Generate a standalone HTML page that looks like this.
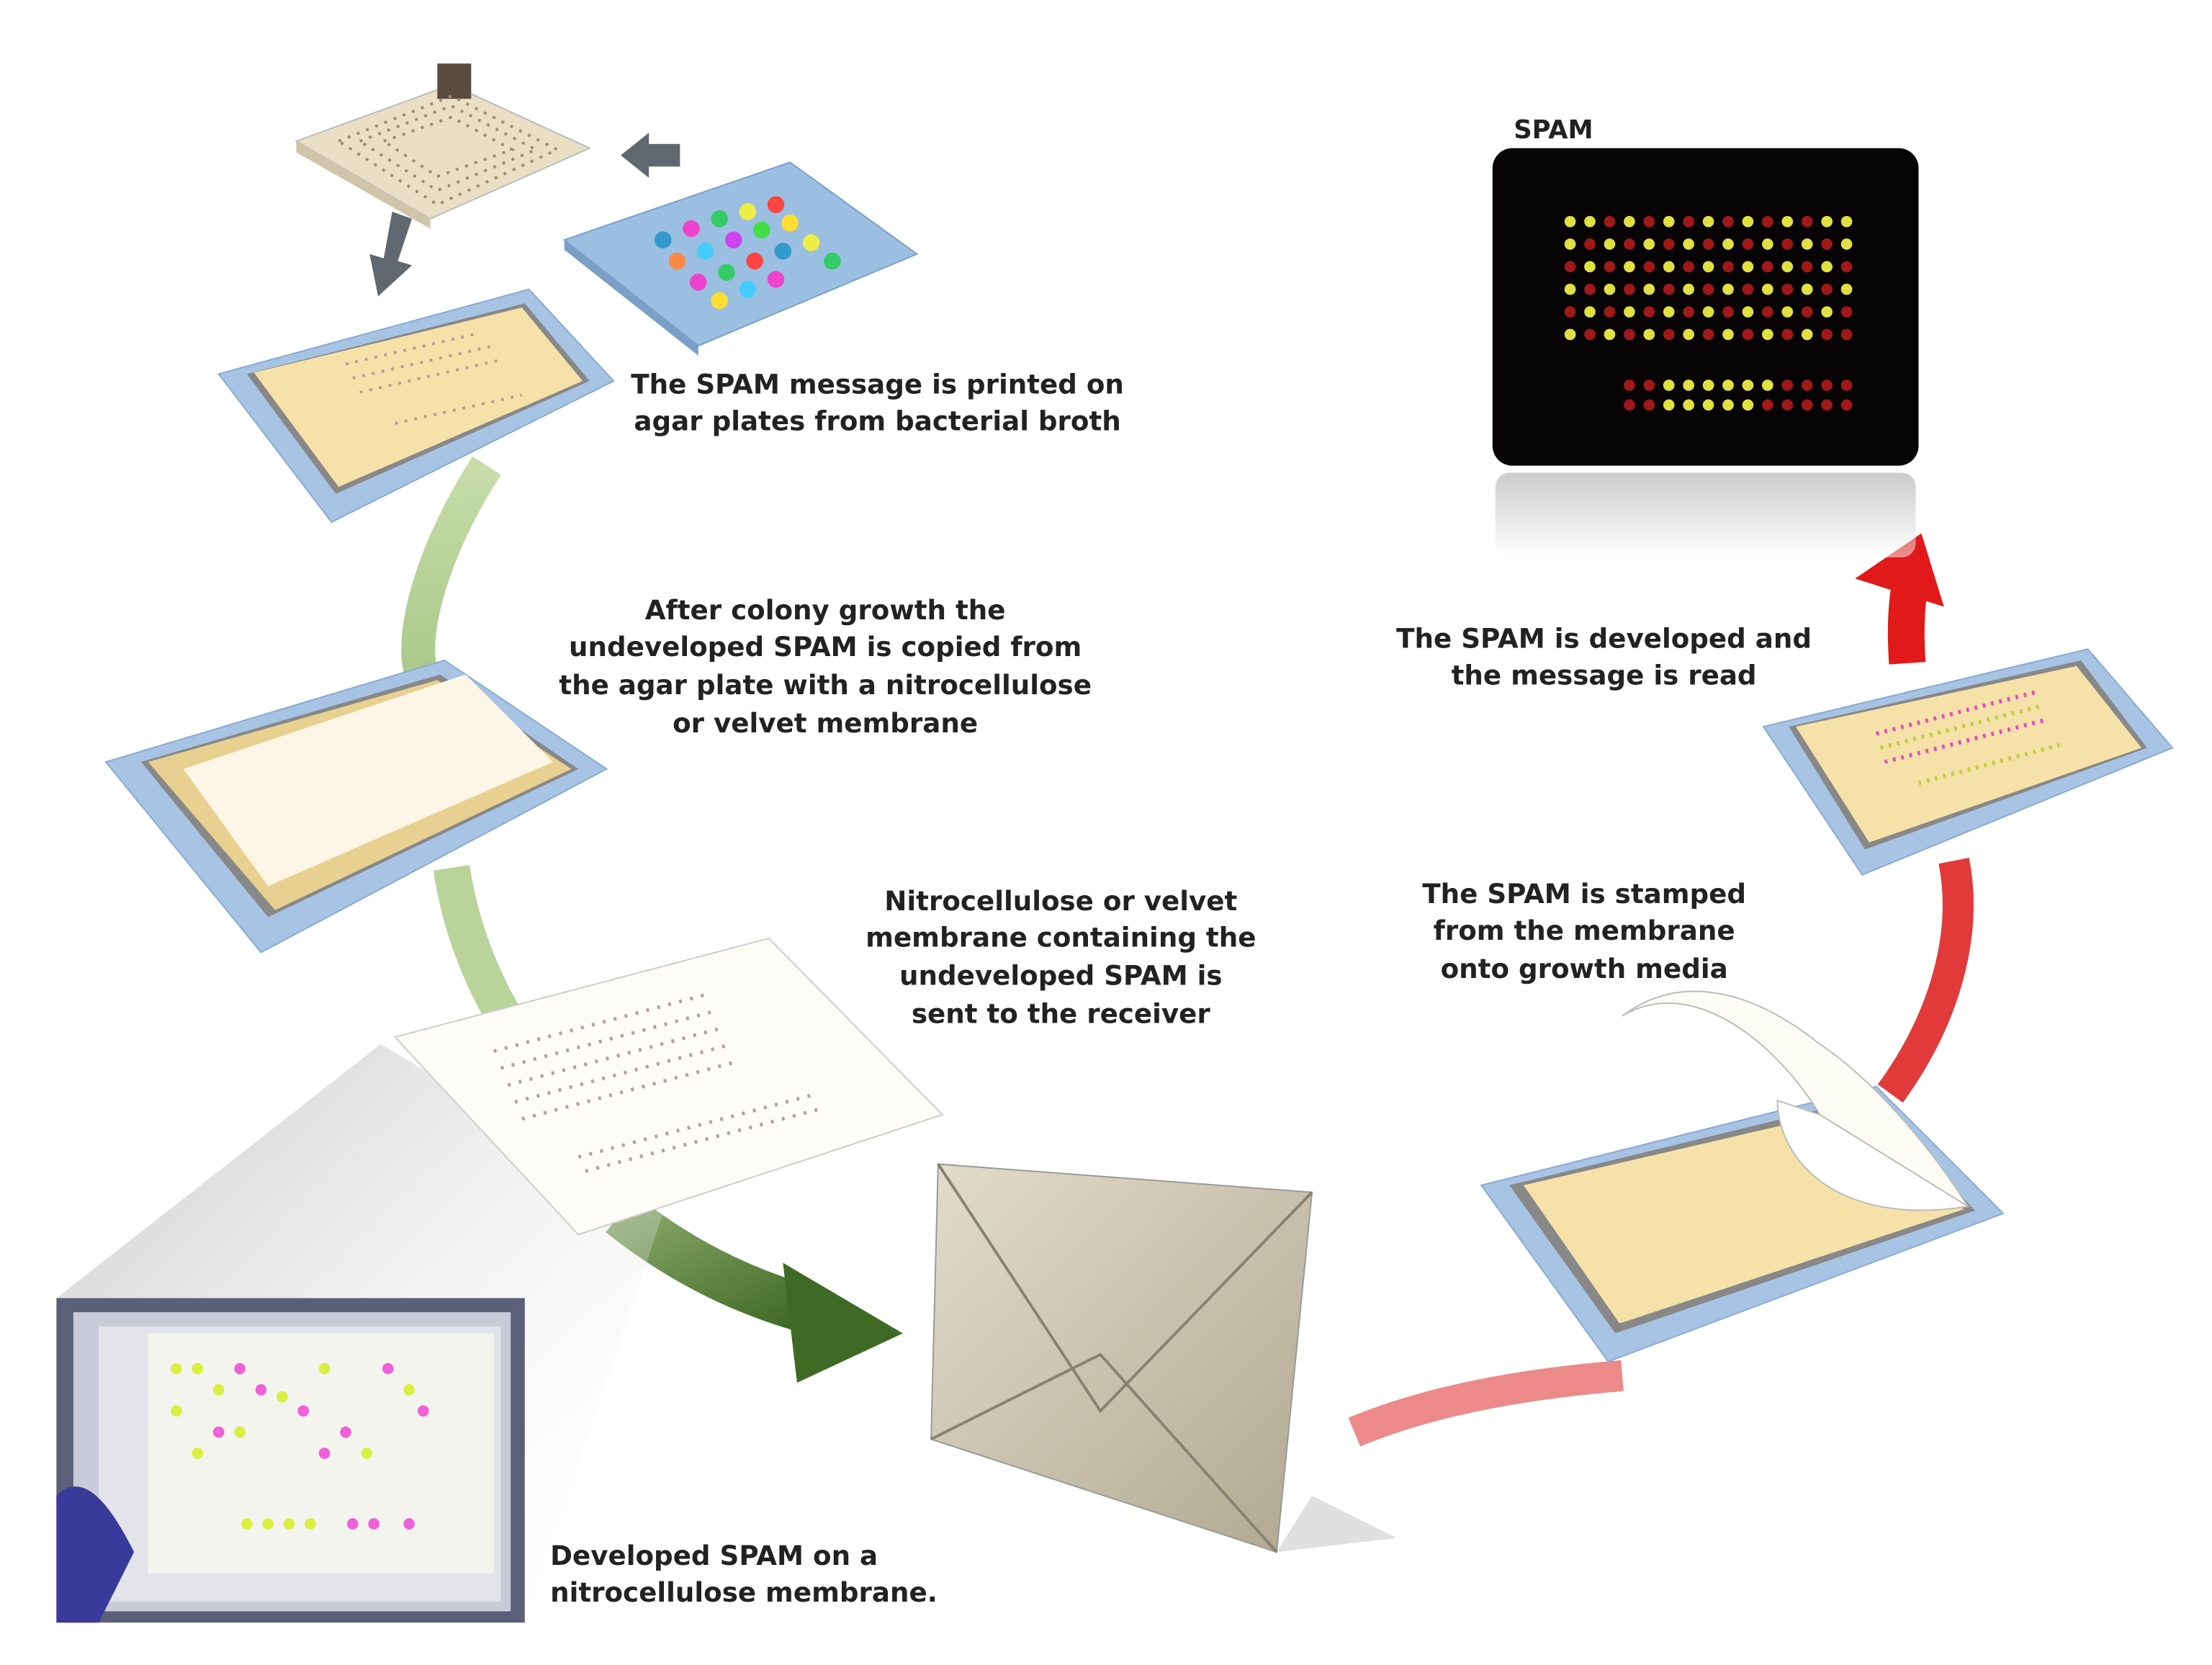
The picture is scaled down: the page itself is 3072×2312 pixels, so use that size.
<!DOCTYPE html>
<html><head><meta charset="utf-8"><style>
html,body{margin:0;padding:0;background:#fff;}
svg{display:block;}
text{font-family:"DejaVu Sans","Liberation Sans",sans-serif;font-weight:bold;font-size:19px;fill:#222;}
</style></head><body>
<svg width="3072" height="2312" viewBox="0 0 1568 1180" xmlns="http://www.w3.org/2000/svg">
<defs>
<linearGradient id="gl" x1="0" y1="0" x2="0" y2="1"><stop offset="0" stop-color="#c8dcaa"/><stop offset="1" stop-color="#a9c98a"/></linearGradient>
<linearGradient id="gd" x1="0" y1="0" x2="1" y2="1"><stop offset="0" stop-color="#8aa86a"/><stop offset="1" stop-color="#3f6a25"/></linearGradient>
<linearGradient id="sh" x1="0" y1="0" x2="1" y2="1"><stop offset="0" stop-color="#bbb"/><stop offset="1" stop-color="#fff" stop-opacity="0"/></linearGradient>
<linearGradient id="ref" x1="0" y1="0" x2="0" y2="1"><stop offset="0" stop-color="#999"/><stop offset="1" stop-color="#fff"/></linearGradient>
<linearGradient id="env" x1="0" y1="0" x2="1" y2="1"><stop offset="0" stop-color="#e2dccb"/><stop offset="1" stop-color="#b0a78f"/></linearGradient>
</defs>

<!-- stamper -->
<polygon points="210,100 320,60 418,105 305,155" fill="#e8dfc4" stroke="#bbb"/>
<polygon points="210,100 305,155 305,162 210,108" fill="#cfc6aa"/>
<rect x="310" y="45" width="24" height="25" fill="#5a4a40"/>
<g>
<polygon points="240,100 320,68 395,106 310,145" fill="none" stroke="#a08a70" stroke-width="2" stroke-dasharray="2 5"/>
<polygon points="255,100 320,75 380,106 310,135" fill="none" stroke="#a08a70" stroke-width="2" stroke-dasharray="2 5"/>
<polygon points="272,100 320,83 363,106 310,125" fill="none" stroke="#a08a70" stroke-width="2" stroke-dasharray="2 5"/>
</g>
<!-- gray arrows -->
<polygon points="482,102 460,102 460,94 440,110 460,126 460,118 482,118" fill="#5f6870"/>
<polygon points="278,150 292,155 282,185 292,188 268,210 262,180 272,183" fill="#5f6870"/>

<!-- blue well plate -->
<polygon points="400,170 560,115 650,180 495,245" fill="#9bbfe0" stroke="#7aa0c8"/>
<polygon points="400,170 495,245 495,252 400,177" fill="#7aa0c8"/>
<g>
<circle cx="470" cy="170" r="6" fill="#39c"/><circle cx="490" cy="162" r="6" fill="#e4c"/><circle cx="510" cy="155" r="6" fill="#3c6"/>
<circle cx="530" cy="150" r="6" fill="#ee4"/><circle cx="550" cy="145" r="6" fill="#f44"/><circle cx="480" cy="185" r="6" fill="#f84"/>
<circle cx="500" cy="178" r="6" fill="#4cf"/><circle cx="520" cy="170" r="6" fill="#c4e"/><circle cx="540" cy="163" r="6" fill="#4d4"/>
<circle cx="560" cy="158" r="6" fill="#fd3"/><circle cx="495" cy="200" r="6" fill="#e4c"/><circle cx="515" cy="193" r="6" fill="#3c6"/>
<circle cx="535" cy="185" r="6" fill="#f44"/><circle cx="555" cy="178" r="6" fill="#39c"/><circle cx="575" cy="172" r="6" fill="#ee4"/>
<circle cx="510" cy="213" r="6" fill="#fd3"/><circle cx="530" cy="205" r="6" fill="#4cf"/><circle cx="550" cy="198" r="6" fill="#e4c"/><circle cx="590" cy="185" r="6" fill="#3c6"/>
</g>

<!-- green connector -->
<path d="M345,330 C300,400 290,460 300,480" stroke="url(#gl)" stroke-width="24" fill="none"/>
<path d="M320,615 C330,680 360,740 420,800" stroke="#b9d39a" stroke-width="26" fill="none"/>
<path d="M440,860 C490,900 540,920 580,930" stroke="url(#gd)" stroke-width="34" fill="none"/>
<polygon points="555,895 640,945 565,980" fill="#3f6a25"/>

<!-- plate 1 -->
<polygon points="155,265 375,205 435,270 235,370" fill="#a8c4e4" stroke="#8aaad0"/>
<polygon points="175,265 372,215 418,270 238,350" fill="#888"/>
<polygon points="180,264 370,218 413,270 240,345" fill="#f6e2a8"/>
<g fill="none" stroke="#b89a9a" stroke-width="2" stroke-dasharray="2 5">
<line x1="245" y1="258" x2="340" y2="236"/><line x1="250" y1="268" x2="350" y2="245"/><line x1="255" y1="278" x2="355" y2="255"/><line x1="280" y1="300" x2="370" y2="280"/>
</g>

<!-- plate 2 -->
<polygon points="75,540 315,468 430,545 185,675" fill="#a8c4e4" stroke="#8aaad0"/>
<polygon points="100,540 312,478 410,545 190,650" fill="#888"/>
<polygon points="105,540 310,482 405,545 195,645" fill="#e8d090"/>
<polygon points="130,545 330,478 392,540 190,628" fill="#fdf6e6"/>

<!-- shadow to photo -->
<polygon points="270,740 470,860 372,1150 40,920" fill="url(#sh)" opacity="0.8"/>

<!-- membrane -->
<polygon points="280,735 545,665 668,790 410,875" fill="#fdfcf6" stroke="#ccc"/>
<g fill="none" stroke="#b89aa8" stroke-width="2.5" stroke-dasharray="2 6">
<line x1="350" y1="745" x2="500" y2="705"/><line x1="355" y1="757" x2="505" y2="717"/><line x1="360" y1="769" x2="510" y2="729"/><line x1="365" y1="781" x2="515" y2="741"/><line x1="370" y1="793" x2="520" y2="753"/><line x1="410" y1="820" x2="580" y2="775"/><line x1="415" y1="830" x2="585" y2="785"/>
</g>

<!-- photo -->
<rect x="40" y="920" width="332" height="230" fill="#5a6078"/>
<rect x="52" y="930" width="310" height="212" fill="#c9ccd8"/>
<rect x="70" y="940" width="285" height="195" fill="#e2e4ea"/>
<rect x="105" y="945" width="245" height="170" fill="#f4f4ee"/>
<g>
<g fill="#d8f040"><circle cx="125" cy="970" r="4"/><circle cx="140" cy="970" r="4"/><circle cx="155" cy="985" r="4"/><circle cx="125" cy="1000" r="4"/><circle cx="170" cy="1015" r="4"/><circle cx="200" cy="990" r="4"/><circle cx="230" cy="970" r="4"/><circle cx="260" cy="1030" r="4"/><circle cx="290" cy="985" r="4"/><circle cx="175" cy="1080" r="4"/><circle cx="190" cy="1080" r="4"/><circle cx="205" cy="1080" r="4"/><circle cx="220" cy="1080" r="4"/><circle cx="140" cy="1030" r="4"/></g>
<g fill="#f060d8"><circle cx="170" cy="970" r="4"/><circle cx="185" cy="985" r="4"/><circle cx="215" cy="1000" r="4"/><circle cx="245" cy="1015" r="4"/><circle cx="275" cy="970" r="4"/><circle cx="300" cy="1000" r="4"/><circle cx="155" cy="1015" r="4"/><circle cx="250" cy="1080" r="4"/><circle cx="265" cy="1080" r="4"/><circle cx="290" cy="1080" r="4"/><circle cx="230" cy="1030" r="4"/></g>
</g>
<path d="M40,1060 C60,1040 80,1070 95,1100 L70,1150 L40,1150Z" fill="#3a3a9a"/>

<!-- envelope -->
<polygon points="665,825 930,845 905,1100 660,1020" fill="url(#env)" stroke="#999"/>
<polyline points="665,825 780,1000 930,845" fill="none" stroke="#8a8270" stroke-width="2"/>
<polyline points="660,1020 780,960 905,1100" fill="none" stroke="#8a8270" stroke-width="2"/>
<polygon points="905,1100 930,1060 990,1090" fill="#ccc" opacity="0.6"/>

<!-- red connectors -->
<path d="M960,1015 C1020,990 1090,980 1150,975" stroke="#ec8a8a" stroke-width="22" fill="none"/>
<path d="M1340,775 C1380,720 1395,660 1385,610" stroke="#e23a3a" stroke-width="22" fill="none"/>
<path d="M1352,470 C1350,440 1352,415 1358,400" stroke="#e01a1a" stroke-width="26" fill="none"/>
<polygon points="1315,410 1362,378 1378,430" fill="#e01a1a"/>

<!-- plate 3 -->
<polygon points="1050,840 1330,770 1420,860 1140,965" fill="#a8c4e4" stroke="#8aaad0"/>
<polygon points="1070,840 1325,778 1400,858 1145,945" fill="#888"/>
<polygon points="1080,840 1322,784 1392,857 1148,938" fill="#f6e2a8"/>
<path d="M1150,720 C1200,690 1260,740 1290,790 C1300,830 1360,860 1395,855 C1360,800 1320,760 1290,740 C1240,700 1190,690 1150,720Z" fill="#fdfcf4" stroke="#bbb"/>
<path d="M1395,855 C1300,870 1260,820 1260,780 L1290,790 Z" fill="#fff" stroke="#bbb"/>

<!-- plate 4 -->
<polygon points="1250,515 1480,460 1540,530 1320,620" fill="#a8c4e4" stroke="#8aaad0"/>
<polygon points="1268,515 1475,468 1522,530 1322,602" fill="#888"/>
<polygon points="1273,515 1472,472 1518,530 1325,597" fill="#f6e2a8"/>
<g stroke-width="3" stroke-dasharray="2 4" fill="none">
<line x1="1330" y1="520" x2="1445" y2="490" stroke="#e050c0"/><line x1="1333" y1="530" x2="1448" y2="500" stroke="#c0d040"/><line x1="1336" y1="540" x2="1451" y2="510" stroke="#e050c0"/><line x1="1360" y1="555" x2="1460" y2="528" stroke="#c0d040"/>
</g>

<!-- SPAM black panel -->
<text x="1073" y="98" style="font-size:18px">SPAM</text>
<rect x="1058" y="105" width="302" height="225" rx="14" fill="#060404"/>
<rect x="1060" y="335" width="298" height="60" rx="10" fill="url(#ref)" opacity="0.5"/>
<g>
<g fill="#e0e040">
<circle cx="1113" cy="157" r="4"/><circle cx="1127" cy="157" r="4"/><circle cx="1155" cy="157" r="4"/><circle cx="1183" cy="157" r="4"/><circle cx="1211" cy="157" r="4"/><circle cx="1239" cy="157" r="4"/><circle cx="1267" cy="157" r="4"/><circle cx="1295" cy="157" r="4"/><circle cx="1309" cy="157" r="4"/>
<circle cx="1113" cy="173" r="4"/><circle cx="1141" cy="173" r="4"/><circle cx="1169" cy="173" r="4"/><circle cx="1197" cy="173" r="4"/><circle cx="1225" cy="173" r="4"/><circle cx="1253" cy="173" r="4"/><circle cx="1281" cy="173" r="4"/><circle cx="1309" cy="173" r="4"/>
<circle cx="1127" cy="189" r="4"/><circle cx="1155" cy="189" r="4"/><circle cx="1183" cy="189" r="4"/><circle cx="1211" cy="189" r="4"/><circle cx="1239" cy="189" r="4"/><circle cx="1267" cy="189" r="4"/><circle cx="1295" cy="189" r="4"/>
<circle cx="1113" cy="205" r="4"/><circle cx="1141" cy="205" r="4"/><circle cx="1169" cy="205" r="4"/><circle cx="1197" cy="205" r="4"/><circle cx="1225" cy="205" r="4"/><circle cx="1253" cy="205" r="4"/><circle cx="1281" cy="205" r="4"/><circle cx="1309" cy="205" r="4"/>
<circle cx="1127" cy="221" r="4"/><circle cx="1155" cy="221" r="4"/><circle cx="1183" cy="221" r="4"/><circle cx="1211" cy="221" r="4"/><circle cx="1239" cy="221" r="4"/><circle cx="1267" cy="221" r="4"/><circle cx="1295" cy="221" r="4"/>
<circle cx="1113" cy="237" r="4"/><circle cx="1141" cy="237" r="4"/><circle cx="1169" cy="237" r="4"/><circle cx="1197" cy="237" r="4"/><circle cx="1225" cy="237" r="4"/><circle cx="1253" cy="237" r="4"/><circle cx="1281" cy="237" r="4"/>
<circle cx="1183" cy="273" r="4"/><circle cx="1197" cy="273" r="4"/><circle cx="1211" cy="273" r="4"/><circle cx="1225" cy="273" r="4"/><circle cx="1239" cy="273" r="4"/><circle cx="1253" cy="273" r="4"/>
<circle cx="1183" cy="287" r="4"/><circle cx="1197" cy="287" r="4"/><circle cx="1211" cy="287" r="4"/><circle cx="1225" cy="287" r="4"/><circle cx="1239" cy="287" r="4"/>
</g>
<g fill="#a01818">
<circle cx="1141" cy="157" r="4"/><circle cx="1169" cy="157" r="4"/><circle cx="1197" cy="157" r="4"/><circle cx="1225" cy="157" r="4"/><circle cx="1253" cy="157" r="4"/><circle cx="1281" cy="157" r="4"/>
<circle cx="1127" cy="173" r="4"/><circle cx="1155" cy="173" r="4"/><circle cx="1183" cy="173" r="4"/><circle cx="1211" cy="173" r="4"/><circle cx="1239" cy="173" r="4"/><circle cx="1267" cy="173" r="4"/><circle cx="1295" cy="173" r="4"/>
<circle cx="1113" cy="189" r="4"/><circle cx="1141" cy="189" r="4"/><circle cx="1169" cy="189" r="4"/><circle cx="1197" cy="189" r="4"/><circle cx="1225" cy="189" r="4"/><circle cx="1253" cy="189" r="4"/><circle cx="1281" cy="189" r="4"/><circle cx="1309" cy="189" r="4"/>
<circle cx="1127" cy="205" r="4"/><circle cx="1155" cy="205" r="4"/><circle cx="1183" cy="205" r="4"/><circle cx="1211" cy="205" r="4"/><circle cx="1239" cy="205" r="4"/><circle cx="1267" cy="205" r="4"/><circle cx="1295" cy="205" r="4"/>
<circle cx="1113" cy="221" r="4"/><circle cx="1141" cy="221" r="4"/><circle cx="1169" cy="221" r="4"/><circle cx="1197" cy="221" r="4"/><circle cx="1225" cy="221" r="4"/><circle cx="1253" cy="221" r="4"/><circle cx="1281" cy="221" r="4"/><circle cx="1309" cy="221" r="4"/>
<circle cx="1127" cy="237" r="4"/><circle cx="1155" cy="237" r="4"/><circle cx="1183" cy="237" r="4"/><circle cx="1211" cy="237" r="4"/><circle cx="1239" cy="237" r="4"/><circle cx="1267" cy="237" r="4"/><circle cx="1295" cy="237" r="4"/><circle cx="1309" cy="237" r="4"/>
<circle cx="1155" cy="273" r="4"/><circle cx="1169" cy="273" r="4"/><circle cx="1267" cy="273" r="4"/><circle cx="1281" cy="273" r="4"/><circle cx="1295" cy="273" r="4"/><circle cx="1309" cy="273" r="4"/>
<circle cx="1155" cy="287" r="4"/><circle cx="1169" cy="287" r="4"/><circle cx="1253" cy="287" r="4"/><circle cx="1267" cy="287" r="4"/><circle cx="1281" cy="287" r="4"/><circle cx="1295" cy="287" r="4"/><circle cx="1309" cy="287" r="4"/>
</g>
</g>

<!-- labels -->
<g text-anchor="middle">
<text x="622" y="279">The SPAM message is printed on</text>
<text x="622" y="305">agar plates from bacterial broth</text>
<text x="585" y="439">After colony growth the</text>
<text x="585" y="465">undeveloped SPAM is copied from</text>
<text x="585" y="492">the agar plate with a nitrocellulose</text>
<text x="585" y="519">or velvet membrane</text>
<text x="752" y="645">Nitrocellulose or velvet</text>
<text x="752" y="671">membrane containing the</text>
<text x="752" y="698">undeveloped SPAM is</text>
<text x="752" y="725">sent to the receiver</text>
<text x="1123" y="640">The SPAM is stamped</text>
<text x="1123" y="666">from the membrane</text>
<text x="1123" y="693">onto growth media</text>
<text x="1137" y="459">The SPAM is developed and</text>
<text x="1137" y="485">the message is read</text>
</g>
<text x="390" y="1109">Developed SPAM on a</text>
<text x="390" y="1135">nitrocellulose membrane.</text>
</svg>
</body></html>
